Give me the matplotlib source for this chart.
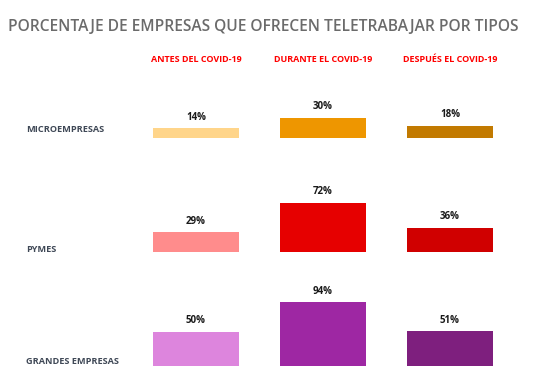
import matplotlib.pyplot as plt

periodos = ["ANTES DEL COVID-19", "DURANTE EL COVID-19", "DESPUÉS EL COVID-19"]
empresas = ["MICROEMPRESAS", "PYMES", "GRANDES EMPRESAS"]
micro = [14, 30, 18]
pymes = [29, 72, 36]
grandes = [50, 94, 51]
valores = [micro, pymes, grandes]

colores = [
    ["#FFD58A", "#EE9600", "#C27A00"],
    ["#FF8C8C", "#E60000", "#D00000"],
    ["#DD85DD", "#9E27A3", "#7E1F7E"],
]

plt.rcParams['font.family'] = ['Open Sans', 'DejaVu Sans']

W, H = 544, 389
fig = plt.figure(figsize=(W / 100, H / 100), dpi=100)
fig.patch.set_facecolor("white")

fig.text(8 / W, 1 - 27 / H, "PORCENTAJE DE EMPRESAS QUE OFRECEN TELETRABAJAR POR TIPOS",
         fontsize=11.2, fontweight="semibold", color="#6b6b6b", va="center", ha="left")

# baselines de cada fila (px desde arriba) y posicion de la etiqueta
baselines = [138, 252, 366]
label_y = [130, 249, 361]
ax_left, ax_right = 153, 493
escala = 68  # px para 100%
ancho = 86 / 127

for i, fila in enumerate(valores):
    ax = fig.add_axes([ax_left / W, 1 - baselines[i] / H, (ax_right - ax_left) / W, escala / H])
    x = list(range(len(fila)))
    bars = ax.bar(x, fila, width=ancho, color=colores[i], edgecolor="none")
    for b, v in zip(bars, fila):
        ax.annotate(f"{v}%", (b.get_x() + b.get_width() / 2, v), xytext=(0, 4),
                    textcoords="offset points", ha="center", va="bottom",
                    fontsize=7, fontweight="bold", color="#1a1a1a", annotation_clip=False)
    ax.set_xlim(-ancho / 2, len(fila) - 1 + ancho / 2)
    ax.set_ylim(0, 100)
    ax.axis("off")
    fig.text(26 / W, 1 - label_y[i] / H, empresas[i], fontsize=6.6, fontweight="bold",
             color="#3f4856", va="center", ha="left")

# cabeceras de columna
for j, p in enumerate(periodos):
    cx = ax_left + 43 + j * 127
    fig.text(cx / W, 1 - 60 / H, p, fontsize=6.5, fontweight="bold", color="#FF0000",
             ha="center", va="center")

plt.savefig("out.png", dpi=100)
